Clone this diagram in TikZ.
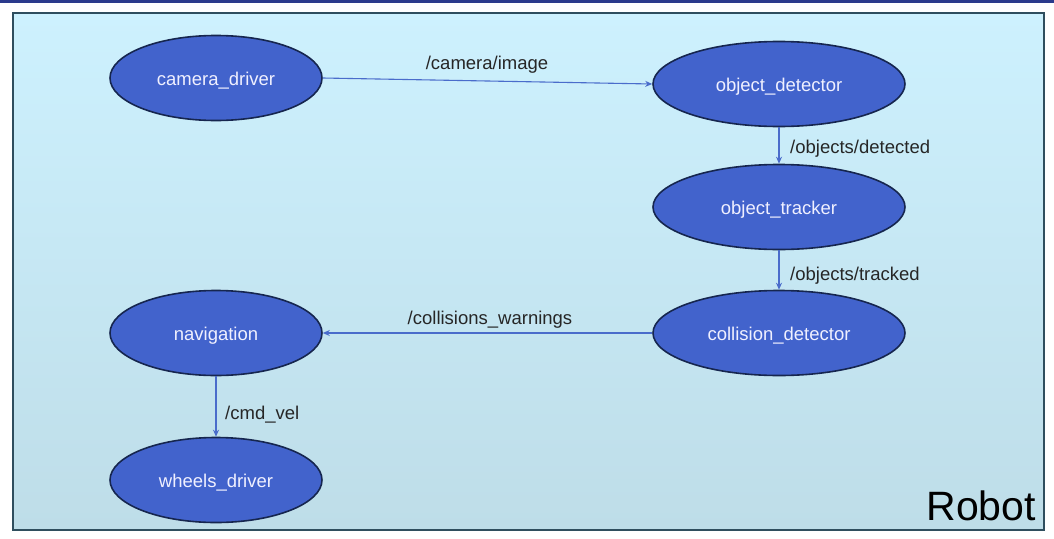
\documentclass[tikz,border=0pt]{standalone}
\usepackage{fontspec}
\setmainfont{Liberation Sans}
\usepackage{xcolor}
\usetikzlibrary{shapes.geometric,arrows.meta,positioning}

\definecolor{nodeblue}{HTML}{4263CC}
\definecolor{nodeedge}{HTML}{16264F}
\definecolor{linkblue}{HTML}{4A6CCB}
\definecolor{boxtop}{HTML}{CDF1FE}
\definecolor{boxbot}{HTML}{BEDDE8}
\definecolor{boxedge}{HTML}{2F4E5E}
\definecolor{topbar}{HTML}{2A3A8C}

\begin{document}
\begin{tikzpicture}[x=1pt,y=-1pt,
	rosnode/.style={ellipse, draw=nodeedge, line width=1.6pt, fill=nodeblue, text=white!94!blue, minimum width=212pt, minimum height=85pt, inner sep=0pt, text height=15pt, text depth=0pt},
	widenode/.style={rosnode, minimum width=252pt},
	topic/.style={-{Stealth[length=7pt,width=6pt]}, draw=linkblue, line width=1.1pt},
	topiclabel/.style={text=black!85, inner sep=0pt}]
	\useasboundingbox (0,0) rectangle (1054,538);
	\fill[white] (0,0) rectangle (1054,538);
	\fill[topbar] (0,0) rectangle (1054,3);
	\draw[boxedge, line width=1.6pt, top color=boxtop, bottom color=boxbot] (13,13) rectangle (1044,530);
	\fontsize{18.5}{22}\selectfont
	% nodes
	\node[rosnode] (camera) at (216,78) {camera\_driver};
	\node[widenode] (detector) at (779,84) {object\_detector};
	\node[widenode] (tracker) at (779,207) {object\_tracker};
	\node[widenode] (collision) at (779,333) {collision\_detector};
	\node[rosnode] (navigation) at (216,333) {navigation};
	\node[rosnode] (wheels) at (216,480) {wheels\_driver};
	% topics
	\draw[topic] (camera.east) -- (detector.west);
	\node[topiclabel] (camimg) at (487,65) {/camera/image};
	\draw[topic] (detector.south) -- (tracker.north);
	\node[topiclabel, anchor=west] (objdet) at (790,149) {/objects/detected};
	\draw[topic] (tracker.south) -- (collision.north);
	\node[topiclabel, anchor=west] (objtrk) at (790,276) {/objects/tracked};
	\draw[topic] (collision.west) -- (navigation.east);
	\node[topiclabel] (warn) at (490,320) {/collisions\_warnings};
	\draw[topic] (navigation.south) -- (wheels.north);
	\node[topiclabel, anchor=west] (cmdvel) at (225,415) {/cmd\_vel};
	% robot
	\node[anchor=south east, inner sep=0pt, font=\fontsize{41}{46}\selectfont] (robot) at (1036,521) {Robot};
\end{tikzpicture}
\end{document}
